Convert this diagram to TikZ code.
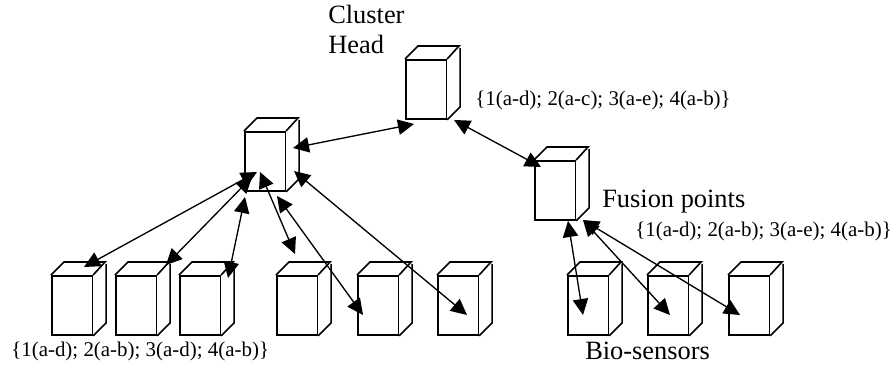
\documentclass[tikz,border=0pt]{standalone}
\usepackage{fontspec}
\setmainfont{Liberation Serif}
\usetikzlibrary{arrows.meta}
\tikzset{every picture/.append style={x=.75pt, y=-.75pt}}
\tikzset{
    bio/.style={rectangle, draw, line width=1.2pt, minimum width=30.4pt, minimum height=44.4pt,
    	inner sep=0pt, anchor=north west},
    edgeline/.style={line width=1.2pt, line join=miter},
    link/.style={line width=1pt, {Triangle[length=12pt,width=11.5pt]}-{Triangle[length=12pt,width=11.5pt]}},
    big/.style={anchor=base west, inner sep=0pt, font=\fontsize{19.8}{24}\selectfont},
    small/.style={anchor=base west, inner sep=0pt, font=\fontsize{15.7}{19}\selectfont}
}

\begin{document}
\begin{tikzpicture}
  \useasboundingbox (0,0) rectangle (894,368);

  % boxes
  \foreach \name/\x/\y in {ch/405/59, fa/244/131, fb/534/160,
      s1/51/275, s2/115/275, s3/179/275, s4/276/275, s5/357/275, s6/437/275,
      s7/567/275, s8/647/275, s9/728/275}{
    \node[bio] (\name) at (\x,\y) {};
    \draw[edgeline] (\name.north west) -- ++(13,-13) -- ++(41,0) -- (\name.north east);
    \draw[edgeline] (\name.south east) -- ++(13,-13) -- ++(0,-59);
  }

  % arrow ends
  \coordinate (chl) at (414,124);
  \coordinate (chr) at (454,120);
  \coordinate (fal) at (293,148);
  \coordinate (fat1) at (257,172);
  \coordinate (fat2) at (252,177);
  \coordinate (fat3) at (245,197);
  \coordinate (fat4) at (260,172);
  \coordinate (fat5) at (277,196);
  \coordinate (fat6) at (294,171);
  \coordinate (fbt) at (541,167);
  \coordinate (fbb1) at (568,221);
  \coordinate (fbb2) at (583,220);
  \coordinate (e1) at (84,267);
  \coordinate (e2) at (166,265);
  \coordinate (e3) at (228,278);
  \coordinate (e4) at (295,254);
  \coordinate (e5) at (363,315);
  \coordinate (e6) at (467,315);
  \coordinate (e7) at (583,315);
  \coordinate (e8) at (670,315);
  \coordinate (e9) at (740,315);

  \draw[link] (fal) -- (chl);
  \draw[link] (chr) -- (fbt);
  \draw[link] (fat1) -- (e1);
  \draw[link] (fat2) -- (e2);
  \draw[link] (fat3) -- (e3);
  \draw[link] (fat4) -- (e4);
  \draw[link] (fat5) -- (e5);
  \draw[link] (fat6) -- (e6);
  \draw[link] (fbb1) -- (e7);
  \draw[link] (fbb2) -- (e8);
  \draw[link] (fbb2) -- (e9);

  \node[big] (cl) at (328,23) {Cluster};
  \node[big] (hd) at (328,53) {Head};
  \node[big] (fp) at (602,207) {Fusion points};
  \node[big] (bs) at (585,359) {Bio-sensors};
  \node[small] (t1) at (475,105) {\{1(a-d); 2(a-c); 3(a-e); 4(a-b)\}};
  \node[small] (t2) at (635,236) {\{1(a-d); 2(a-b); 3(a-e); 4(a-b)\}};
  \node[small] (t3) at (11,356) {\{1(a-d); 2(a-b); 3(a-d); 4(a-b)\}};
\end{tikzpicture}
\end{document}
